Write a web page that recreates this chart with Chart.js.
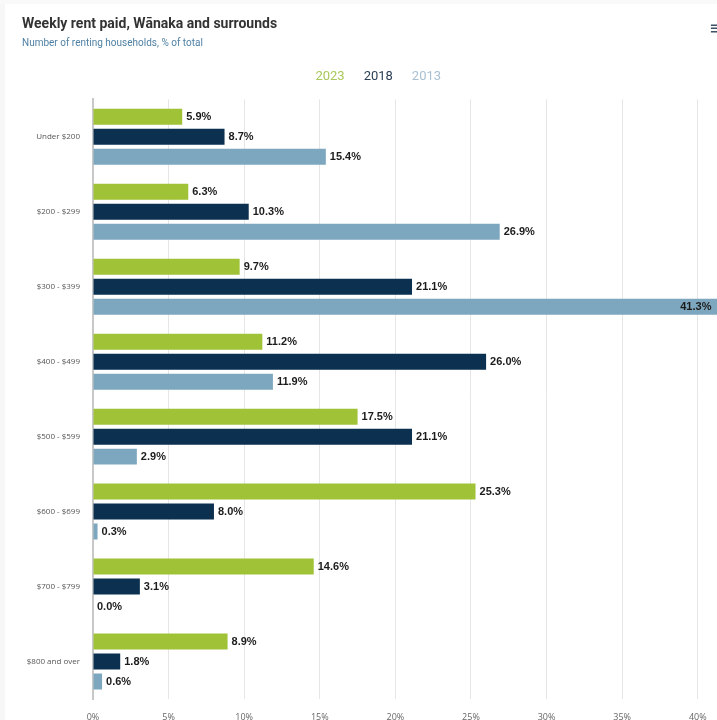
<!DOCTYPE html>
<html>
<head>
<meta charset="utf-8">
<script src="https://cdn.jsdelivr.net/npm/chart.js@4"></script>
<style>
  html, body { margin: 0; padding: 0; background: #ffffff; overflow: hidden; width: 717px; height: 720px; }
  #stripL { position: absolute; left: 0; top: 0; width: 5px; height: 720px; background: #f7f7f7; }
  #stripT { position: absolute; left: 0; top: 0; width: 717px; height: 4px; background: #f9f9f9; }
  #wrap { position: absolute; left: 22px; top: 0; width: 706px; height: 740px; }
  #menu { position: absolute; left: 709px; top: 19px; font: 18px "DejaVu Sans", sans-serif; color: #3d5066; line-height: 18px; }
</style>
</head>
<body>
<div id="stripL"></div>
<div id="stripT"></div>
<div id="wrap"><canvas id="c"></canvas></div>
<div id="menu">≡</div>
<script>
const categories = ['Under $200', '$200 - $299', '$300 - $399', '$400 - $499', '$500 - $599', '$600 - $699', '$700 - $799', '$800 and over'];
const values2023 = [5.9, 6.3, 9.7, 11.2, 17.5, 25.3, 14.6, 8.9];
const values2018 = [8.7, 10.3, 21.1, 26.0, 21.1, 8.0, 3.1, 1.8];
const values2013 = [15.4, 26.9, 41.3, 11.9, 2.9, 0.3, 0.0, 0.6];
const seriesNames = ['2023', '2018', '2013'];
const xTicks = [0, 5, 10, 15, 20, 25, 30, 35, 40];

const barColors = ['#9fc236', '#0b3050', '#7da7bf'];
const legendColors = ['#a9c85a', '#2b3f55', '#a9c0d2'];

const legendSpacer = {
  id: 'legendSpacer',
  beforeInit(chart) {
    const origFit = chart.legend.fit;
    chart.legend.fit = function () {
      origFit.bind(chart.legend)();
      this.height += 6;
    };
  }
};

const valueLabels = {
  id: 'valueLabels',
  afterDatasetsDraw(chart) {
    const ctx = chart.ctx;
    const canvasLeft = chart.canvas.getBoundingClientRect().left;
    const visibleRight = window.innerWidth - canvasLeft;
    ctx.save();
    ctx.font = 'bold 11px "Liberation Sans", Arial, sans-serif';
    ctx.textBaseline = 'middle';
    chart.data.datasets.forEach((ds, di) => {
      const meta = chart.getDatasetMeta(di);
      meta.data.forEach((bar, i) => {
        const txt = ds.data[i].toFixed(1) + '%';
        const w = ctx.measureText(txt).width;
        let x = bar.x + 4;
        let align = 'left';
        if (x + w > visibleRight) { x = bar.x - 6; align = 'right'; }
        ctx.textAlign = align;
        ctx.fillStyle = '#1c1c1c';
        ctx.fillText(txt, x, bar.y + 0.5);
      });
    });
    ctx.restore();
  }
};

new Chart(document.getElementById('c'), {
  type: 'bar',
  data: {
    labels: categories,
    datasets: [
      { label: seriesNames[0], data: values2023, backgroundColor: barColors[0] },
      { label: seriesNames[1], data: values2018, backgroundColor: barColors[1] },
      { label: seriesNames[2], data: values2013, backgroundColor: barColors[2] }
    ]
  },
  plugins: [legendSpacer, valueLabels],
  options: {
    indexAxis: 'y',
    responsive: true,
    maintainAspectRatio: false,
    animation: false,
    layout: { padding: 0 },
    datasets: { bar: { categoryPercentage: 0.8, barPercentage: 0.8 } },
    plugins: {
      title: {
        display: true,
        text: 'Weekly rent paid, Wānaka and surrounds',
        align: 'start',
        color: '#333333',
        font: { family: 'Roboto, "Liberation Sans", sans-serif', size: 14, weight: 'bold' },
        padding: { top: 16, bottom: 0 }
      },
      subtitle: {
        display: true,
        text: 'Number of renting households, % of total',
        align: 'start',
        color: '#4f80a3',
        font: { family: 'Roboto, "Liberation Sans", sans-serif', size: 10 },
        padding: { top: 5, bottom: 8 }
      },
      legend: {
        display: true,
        position: 'top',
        align: 'center',
        labels: {
          boxWidth: 0,
          boxHeight: 0,
          padding: 12.5,
          font: { family: 'Roboto, "Liberation Sans", sans-serif', size: 13 },
          generateLabels(chart) {
            return chart.data.datasets.map((ds, i) => ({
              text: ds.label,
              fontColor: legendColors[i],
              fillStyle: 'rgba(0,0,0,0)',
              strokeStyle: 'rgba(0,0,0,0)',
              lineWidth: 0,
              hidden: false,
              datasetIndex: i
            }));
          }
        }
      },
      tooltip: { enabled: false }
    },
    scales: {
      x: {
        type: 'linear',
        min: 0,
        max: 42,
        afterBuildTicks(scale) { scale.ticks = xTicks.map(v => ({ value: v })); },
        afterFit(scale) { scale.height = 41; },
        grid: { color: '#e6e6e6', lineWidth: 1, drawTicks: false },
        border: { display: false },
        ticks: {
          padding: 13,
          color: '#666666',
          font: { family: '"Open Sans", sans-serif', size: 9 },
          callback: v => v + '%',
          maxRotation: 0,
          autoSkip: false
        }
      },
      y: {
        afterFit(scale) { scale.width = 71; },
        grid: { display: false, drawTicks: false },
        border: { display: true, color: '#c8c8c8', width: 2 },
        ticks: {
          padding: 13,
          color: '#555555',
          font: { family: '"Open Sans", sans-serif', size: 8 }
        }
      }
    }
  }
});
</script>
</body>
</html>
